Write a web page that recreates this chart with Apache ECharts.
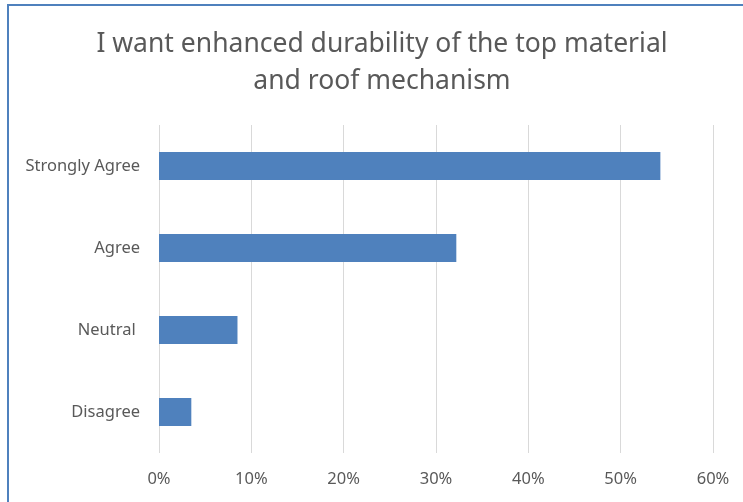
<!DOCTYPE html>
<html>
<head>
<meta charset="utf-8">
<script src="https://cdn.jsdelivr.net/npm/echarts@6/dist/echarts.min.js"></script>
<style>
  html, body { margin: 0; padding: 0; background: #fff; }
  #chart { width: 743px; height: 502px; }
</style>
</head>
<body>
<div id="chart"></div>
<script>
// Survey responses, bottom-to-top order on the category axis
const categories = ['Disagree', 'Neutral ', 'Agree', 'Strongly Agree'];
const shares = [3.5, 8.5, 32.2, 54.3];
const tickLabels = ['0%', '10%', '20%', '30%', '40%', '50%', '60%'];

const titleLines = ['I want enhanced durability of the top material', 'and roof mechanism'];

const chart = echarts.init(document.getElementById('chart'));
const textColor = '#595959';
const font = '"Noto Sans", "Open Sans", sans-serif';

chart.setOption({
  animation: false,
  backgroundColor: '#fff',
  graphic: [{
    type: 'rect',
    shape: { x: 8, y: 5, width: 760, height: 520 },
    style: { fill: 'none', stroke: '#4f81bd', lineWidth: 2 },
    silent: true
  }],
  title: {
    text: titleLines.join('\n'),
    left: 377,
    textAlign: 'center',
    top: 21,
    textStyle: {
      fontFamily: font,
      fontSize: 26.5,
      fontWeight: 'normal',
      color: textColor,
      lineHeight: 37
    }
  },
  grid: { left: 159, right: 30, top: 125, bottom: 49 },
  xAxis: {
    type: 'value',
    min: 0,
    max: 60,
    interval: 10,
    axisLine: { show: false },
    axisTick: { show: false },
    splitLine: { lineStyle: { color: '#d9d9d9', width: 1 } },
    axisLabel: {
      margin: 18,
      fontFamily: font,
      fontSize: 16.5,
      color: textColor,
      formatter: v => tickLabels[Math.round(v / 10)]
    }
  },
  yAxis: {
    type: 'category',
    data: categories,
    axisLine: { show: false },
    axisTick: { show: false },
    axisLabel: {
      margin: 19,
      fontFamily: font,
      fontSize: 16.5,
      color: textColor
    }
  },
  series: [{
    type: 'bar',
    data: shares,
    barCategoryGap: '66%',
    itemStyle: { color: '#4f81bd' }
  }]
});
</script>
</body>
</html>
